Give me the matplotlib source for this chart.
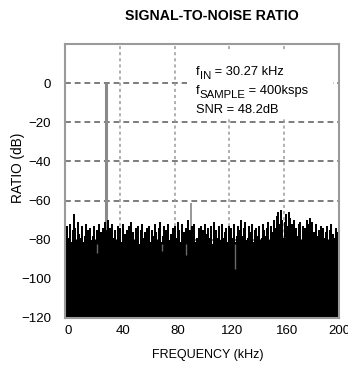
import matplotlib
matplotlib.use('Agg')
import matplotlib.pyplot as plt
import matplotlib.patches as mpatches
import matplotlib.transforms as mtransforms
import numpy as np

plt.rcParams['font.family'] = ['Liberation Sans', 'DejaVu Sans']

# ---- data ----
f_in_khz = 30.27
signal_db = 0.0
spur_khz = 92.0
spur_db = -61.0

# noise floor tops, one bin per kHz from 0 to 199 kHz
noise_db = [
    -76, -73, -79, -72, -81, -75, -67, -74, -80, -71, -77, -79, -73, -81, -78, -72, -75, -80, -74, -80,
    -78, -73, -80, -75, -72, -81, -76, -74, -79, -71, -75, -70, -74, -80, -72, -79, -75, -80, -73, -76,
    -74, -81, -72, -77, -80, -75, -73, -81, -71, -76, -80, -74, -77, -73, -82, -75, -72, -79, -76, -74,
    -77, -73, -81, -75, -78, -72, -76, -80, -74, -71, -81, -78, -73, -75, -79, -72, -80, -77, -74, -77,
    -73, -79, -71, -75, -81, -72, -76, -79, -74, -70, -80, -75, -73, -78, -72, -81, -79, -74, -77, -73,
    -75, -81, -72, -77, -74, -79, -73, -82, -71, -78, -75, -79, -73, -80, -72, -79, -76, -74, -81, -73,
    -77, -74, -79, -72, -81, -78, -73, -75, -70, -78, -74, -71, -80, -79, -73, -76, -72, -81, -75, -74,
    -78, -73, -80, -79, -72, -75, -78, -74, -71, -80, -73, -76, -70, -74, -68, -66, -72, -65, -70, -79,
    -71, -67, -73, -66, -69, -72, -80, -70, -74, -78, -72, -71, -80, -73, -77, -74, -70, -72, -69, -79,
    -71, -76, -81, -72, -78, -75, -73, -81, -74, -79, -76, -73, -80, -75, -72, -77, -79, -74, -76, -78,
]
noise_khz = np.arange(len(noise_db))

# faint grey streaks inside the black floor (kHz, top dB, bottom dB)
streak_khz = [23, 71, 88, 124]
streak_top = [-82, -82, -82, -82]
streak_bot = [-87, -86, -88, -95]

x_ticks = [0, 40, 80, 120, 160, 200]
y_ticks = [0, -20, -40, -60, -80, -100, -120]
y_floor = -122

# annotation lines: (f, subscript, rest)
note_lines = [('f', 'IN', ' = 30.27 kHz'),
              ('f', 'SAMPLE', ' = 400ksps'),
              ('SNR = 48.2dB', '', '')]

fig = plt.figure(figsize=(3.48, 3.69), dpi=100)
ax = fig.add_axes([65/348, 1-318/369, 274/348, 274/369])

# grid
for y in y_ticks:
    ax.axhline(y, color='#7c7c7c', lw=1.4, ls=(0, (3, 2)), zorder=1)
for x in x_ticks[1:-1]:
    ax.axvline(x, color='#9a9a9a', lw=1.1, ls=(0, (2, 2)), zorder=1)

# fundamental and spur
ax.vlines(f_in_khz, y_floor, signal_db, color='#8a8a8a', lw=2.2, zorder=2)
ax.vlines(spur_khz, y_floor, spur_db, color='#7a7a7a', lw=1.1, zorder=2)

# noise floor
ax.vlines(noise_khz + 0.5, y_floor, noise_db, color='black', lw=1.45, zorder=3)
ax.vlines(streak_khz, streak_bot, streak_top, color='#6a6a6a', lw=1.0, zorder=4)

# white box behind the annotation
ax.add_patch(mpatches.Rectangle((0.447, 0.73), 0.53, 0.24, transform=ax.transAxes,
                                facecolor='white', edgecolor='none', zorder=5))

baselines = [0.876, 0.806, 0.736]
for (main, sub, rest), yb in zip(note_lines, baselines):
    t = ax.text(0.478, yb, main, transform=ax.transAxes, fontsize=9.3,
                va='bottom', zorder=6)
    if sub:
        s = ax.annotate(sub, xy=(1, 0), xycoords=t, xytext=(0, -2.4),
                        textcoords='offset points', fontsize=8.2, va='bottom', zorder=6)
        r = ax.annotate(rest, xy=(1, 0), xycoords=t, xytext=(0, 0),
                        textcoords='offset points', fontsize=9.3, va='bottom', zorder=6)
        fig.canvas.draw()
        # start the rest of the line after the subscript
        sub_w = s.get_window_extent().width
        r.set_position((sub_w * 72 / fig.dpi, 0))

ax.set_xlim(0, 200)
ax.set_ylim(-120, 20)
ax.set_xticks(x_ticks)
ax.set_yticks(y_ticks)
ax.tick_params(length=0, labelsize=9.5)
ax.tick_params(axis='y', pad=10)
ax.tick_params(axis='x', pad=5)
shift = mtransforms.ScaledTranslation(3/100, 0, fig.dpi_scale_trans)
for lab in ax.get_xticklabels()[:-1]:
    lab.set_transform(lab.get_transform() + shift)

for s in ax.spines.values():
    s.set_color('#9a9a9a')
    s.set_linewidth(1.5)
    s.set_zorder(7)

ax.set_xlabel('FREQUENCY (kHz)', fontsize=9)
ax.xaxis.set_label_coords(0.52, -0.112)
ax.set_ylabel('RATIO (dB)', fontsize=9.8)
ax.yaxis.set_label_coords(-0.145, 0.547)

fig.text(212/348, 1-16/369, 'SIGNAL-TO-NOISE RATIO', fontsize=10.2, fontweight='bold',
         ha='center', va='center')

fig.savefig('out.png', dpi=100)
